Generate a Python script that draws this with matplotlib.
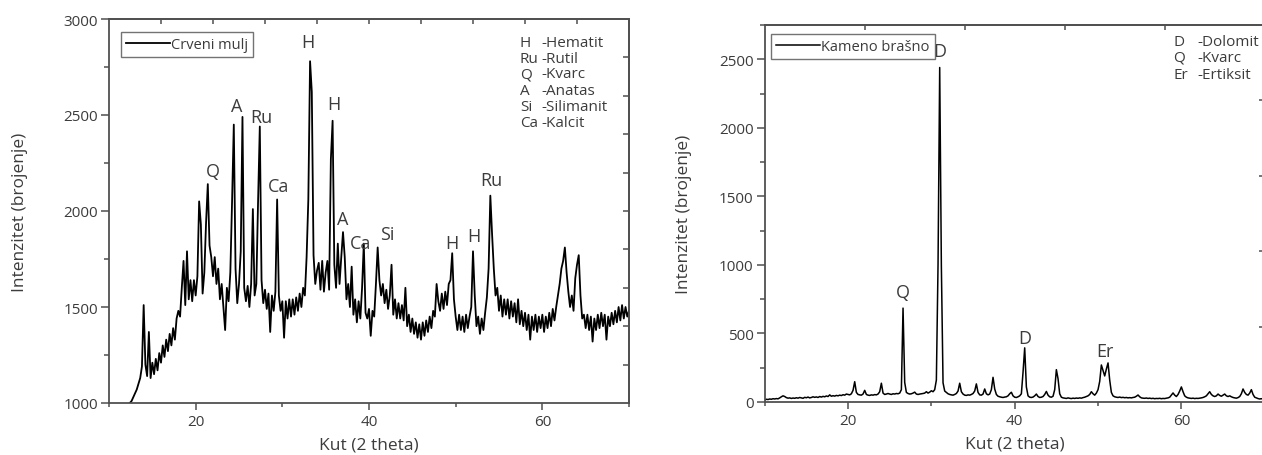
"""
XRD patterns: Crveni mulj (left) and Kameno brasno (right).
"""

import matplotlib
matplotlib.use("Agg")
import matplotlib.pyplot as plt
import numpy as np
from matplotlib.ticker import MultipleLocator

# --- Crveni mulj, 2theta from 12.0 to 70.0 in 0.2 steps
mulj_counts = [
    960, 990, 1000, 1010, 1030, 1050, 1070, 1100, 1130, 1190,
    1510, 1200, 1140, 1370, 1130, 1210, 1150, 1230, 1170, 1260,
    1210, 1300, 1240, 1330, 1270, 1360, 1300, 1390, 1330, 1440,
    1480, 1450, 1600, 1740, 1510, 1790, 1540, 1640, 1530, 1640,
    1560, 1660, 2050, 1930, 1570, 1680, 1940, 2140, 1820, 1760,
    1660, 1760, 1620, 1700, 1540, 1620, 1500, 1380, 1600, 1530,
    1680, 2050, 2450, 1700, 1520, 1620, 1790, 2490, 1600, 1530,
    1610, 1500, 1620, 2010, 1560, 1620, 2050, 2440, 1640, 1520,
    1590, 1490, 1570, 1370, 1560, 1480, 1580, 2060, 1560, 1480,
    1530, 1340, 1530, 1440, 1540, 1450, 1540, 1460, 1550, 1480,
    1570, 1500, 1600, 1560, 1760, 2060, 2780, 2620, 1770, 1620,
    1690, 1730, 1590, 1740, 1580, 1680, 1740, 1590, 2270, 2470,
    1720, 1600, 1830, 1620, 1760, 1890, 1760, 1540, 1620, 1500,
    1710, 1460, 1540, 1420, 1530, 1440, 1600, 1830, 1470, 1440,
    1490, 1350, 1480, 1450, 1620, 1810, 1640, 1560, 1620, 1520,
    1590, 1490, 1560, 1720, 1460, 1540, 1440, 1520, 1440, 1510,
    1430, 1600, 1400, 1460, 1370, 1440, 1360, 1420, 1340, 1410,
    1330, 1420, 1350, 1430, 1370, 1450, 1390, 1480, 1450, 1620,
    1530, 1480, 1570, 1490, 1580, 1510, 1620, 1640, 1780, 1540,
    1450, 1380, 1460, 1380, 1450, 1370, 1460, 1390, 1450, 1500,
    1790, 1560, 1400, 1450, 1360, 1440, 1380, 1470, 1550, 1700,
    2080, 1880, 1700, 1560, 1600, 1480, 1560, 1450, 1540, 1460,
    1540, 1440, 1530, 1450, 1520, 1420, 1540, 1410, 1480, 1400,
    1470, 1380, 1460, 1330, 1450, 1380, 1460, 1370, 1450, 1390,
    1460, 1370, 1450, 1390, 1470, 1400, 1490, 1430, 1500, 1560,
    1620, 1700, 1740, 1810, 1680, 1580, 1500, 1560, 1480, 1650,
    1720, 1770, 1560, 1440, 1460, 1390, 1460, 1380, 1450, 1320,
    1440, 1380, 1460, 1390, 1470, 1400, 1460, 1330, 1450, 1400,
    1470, 1410, 1480, 1420, 1500, 1430, 1510, 1440, 1500, 1450,
    1480,
]

# --- Kameno brasno, 2theta from 10.0 to 70.0 in 0.2 steps
brasno_counts = [
    15, 20, 18, 22, 20, 24, 22, 25, 23, 30,
    38, 45, 40, 32, 28, 30, 26, 29, 27, 31,
    28, 33, 30, 27, 34, 31, 36, 30, 33, 38,
    34, 37, 33, 40, 36, 41, 38, 44, 40, 52,
    42, 46, 43, 48, 45, 50, 47, 53, 50, 58,
    55, 52, 60, 85, 148, 70, 55, 52, 50, 58,
    85, 55, 50, 48, 52, 50, 54, 52, 58, 75,
    137, 65, 55, 58, 62, 58, 55, 60, 58, 62,
    60, 65, 90, 685, 143, 70, 62, 58, 60, 65,
    72, 58, 55, 58, 60, 62, 65, 75, 65, 72,
    82, 75, 90, 160, 1000, 2440, 990, 140, 80, 70,
    60, 55, 52, 50, 55, 62, 80, 137, 75, 58,
    50, 48, 52, 50, 55, 62, 80, 132, 70, 52,
    50, 58, 95, 60, 52, 58, 90, 180, 95, 55,
    42, 38, 35, 33, 36, 38, 45, 60, 71, 45,
    35, 33, 38, 45, 60, 217, 395, 110, 45, 35,
    33, 36, 45, 58, 40, 33, 35, 40, 55, 77,
    50, 38, 35, 42, 90, 236, 170, 60, 35, 30,
    28, 26, 30, 27, 25, 28, 26, 29, 27, 30,
    28, 32, 35, 40, 45, 55, 75, 60, 50, 65,
    90, 150, 270, 230, 190, 240, 285, 160, 70, 45,
    38, 35, 33, 36, 32, 34, 31, 33, 30, 32,
    30, 33, 35, 42, 51, 38, 30, 28, 27, 29,
    26, 28, 25, 27, 24, 26, 25, 27, 24, 26,
    25, 28, 30, 35, 50, 66, 50, 40, 55, 80,
    110, 75, 45, 35, 30, 28, 26, 28, 25, 27,
    26, 28, 30, 33, 38, 45, 60, 75, 55, 45,
    40, 45, 58, 48, 42, 50, 58, 45, 40, 45,
    38, 33, 30, 28, 32, 40, 60, 95, 70, 55,
    50, 65, 90, 55, 35, 30, 25, 22, 24, 22,
    23,
]

mulj_theta = np.linspace(12.0, 70.0, len(mulj_counts))
brasno_theta = np.linspace(10.0, 70.0, len(brasno_counts))

# peak markers (letter, 2theta, counts where the letter sits)
mulj_marks = [
    ("Q", 22.0, 2210), ("A", 24.7, 2548), ("Ru", 27.6, 2488), ("Ca", 29.6, 2132),
    ("H", 33.0, 2878), ("H", 35.9, 2557), ("A", 37.0, 1958), ("Ca", 39.0, 1832),
    ("Si", 42.1, 1880), ("H", 49.6, 1832), ("H", 52.1, 1868), ("Ru", 54.1, 2163),
]
brasno_marks = [
    ("D", 31.0, 2560), ("Q", 26.6, 802), ("D", 41.2, 466), ("Er", 50.8, 375),
]

mulj_phases = ["H", "Ru", "Q", "A", "Si", "Ca"]
mulj_names = ["-Hematit", "-Rutil", "-Kvarc", "-Anatas", "-Silimanit", "-Kalcit"]
brasno_phases = ["D", "Q", "Er"]
brasno_names = ["-Dolomit", "-Kvarc", "-Ertiksit"]

plt.rcParams["font.family"] = ["Open Sans", "DejaVu Sans"]
TXT = "#3c3c3c"
FRAME = "#505050"

W, H = 1262, 456
fig = plt.figure(figsize=(W / 100, H / 100), dpi=100)


def px_axes(x0, y0, x1, y1):
    return fig.add_axes([x0 / W, 1 - y1 / H, (x1 - x0) / W, (y1 - y0) / H])


def style(ax, ymaj, ymin, top_ticks, right_ticks, ylab_x):
    for s in ax.spines.values():
        s.set_color(FRAME)
        s.set_linewidth(1.3)
    ax.xaxis.set_major_locator(MultipleLocator(20))
    ax.xaxis.set_minor_locator(MultipleLocator(10))
    ax.yaxis.set_major_locator(MultipleLocator(ymaj))
    ax.yaxis.set_minor_locator(MultipleLocator(ymin))
    ax.tick_params(axis="both", which="both", direction="out", color=FRAME,
                   labelcolor=TXT, labelsize=11, width=1.1)
    ax.tick_params(axis="x", which="major", length=5, pad=3)
    ax.tick_params(axis="x", which="minor", length=3)
    ax.tick_params(axis="y", which="major", length=6, pad=2)
    ax.tick_params(axis="y", which="minor", length=3.5)

    sx = ax.secondary_xaxis("top")
    sx.set_xticks(top_ticks)
    sx.set_xticklabels([])
    sx.tick_params(direction="in", length=3.5, color=FRAME, width=1.1)
    sx.spines["top"].set_color(FRAME)
    sx.spines["top"].set_linewidth(1.3)
    sy = ax.secondary_yaxis("right")
    sy.set_yticks(right_ticks)
    sy.set_yticklabels([])
    sy.tick_params(direction="in", length=4, color=FRAME, width=1.1)
    sy.spines["right"].set_color(FRAME)
    sy.spines["right"].set_linewidth(1.3)

    ax.set_xlabel("Kut (2 theta)", fontsize=12.5, color=TXT, labelpad=5)
    ax.set_ylabel("Intenzitet (brojenje)", fontsize=12.5, color=TXT)
    ax.yaxis.set_label_coords(ylab_x, 0.5)


def legend_box(ax, label, anchor):
    leg = ax.legend([label], loc="upper left", bbox_to_anchor=anchor, fontsize=10.5,
                    frameon=True, fancybox=False, handlelength=3.0, handletextpad=0.1,
                    borderpad=0.35, borderaxespad=0)
    leg.get_frame().set_edgecolor(FRAME)
    leg.get_frame().set_linewidth(1.0)
    for t in leg.get_texts():
        t.set_color(TXT)


# ---------------- left: Crveni mulj
ax1 = px_axes(109, 20, 629, 404)
ax1.plot(mulj_theta, mulj_counts, color="black", lw=1.3)
ax1.set_xlim(10, 70)
ax1.set_ylim(1000, 3000)
style(ax1, 500, 250, np.arange(16, 65, 6), np.arange(1200, 2801, 200), -0.155)
legend_box(ax1, "Crveni mulj", (0.023, 0.966))
for lab, x, y in mulj_marks:
    ax1.text(x, y, lab, ha="center", va="center", fontsize=13, color=TXT)
ys = [0.939, 0.898, 0.857, 0.815, 0.773, 0.731]
for ab, nm, y in zip(mulj_phases, mulj_names, ys):
    ax1.text(0.790, y, ab, transform=ax1.transAxes, ha="left", va="center",
             fontsize=11, color=TXT)
    ax1.text(0.832, y, nm, transform=ax1.transAxes, ha="left", va="center",
             fontsize=11, color=TXT)

# ---------------- right: Kameno brasno
ax2 = px_axes(764.7, 26, 1264.7, 403)
ax2.plot(brasno_theta, brasno_counts, color="black", lw=1.1)
ax2.set_xlim(10, 70)
ax2.set_ylim(0, 2750)
style(ax2, 500, 250, np.arange(22, 59, 12), np.arange(550, 2201, 550), -0.146)
legend_box(ax2, "Kameno brašno", (0.0126, 0.976))
for lab, x, y in brasno_marks:
    ax2.text(x, y, lab, ha="center", va="center", fontsize=13, color=TXT)
ys = [0.956, 0.914, 0.870]
for ab, nm, y in zip(brasno_phases, brasno_names, ys):
    ax2.text(0.817, y, ab, transform=ax2.transAxes, ha="left", va="center",
             fontsize=11, color=TXT)
    ax2.text(0.866, y, nm, transform=ax2.transAxes, ha="left", va="center",
             fontsize=11, color=TXT)

fig.savefig("out.png", dpi=100)
